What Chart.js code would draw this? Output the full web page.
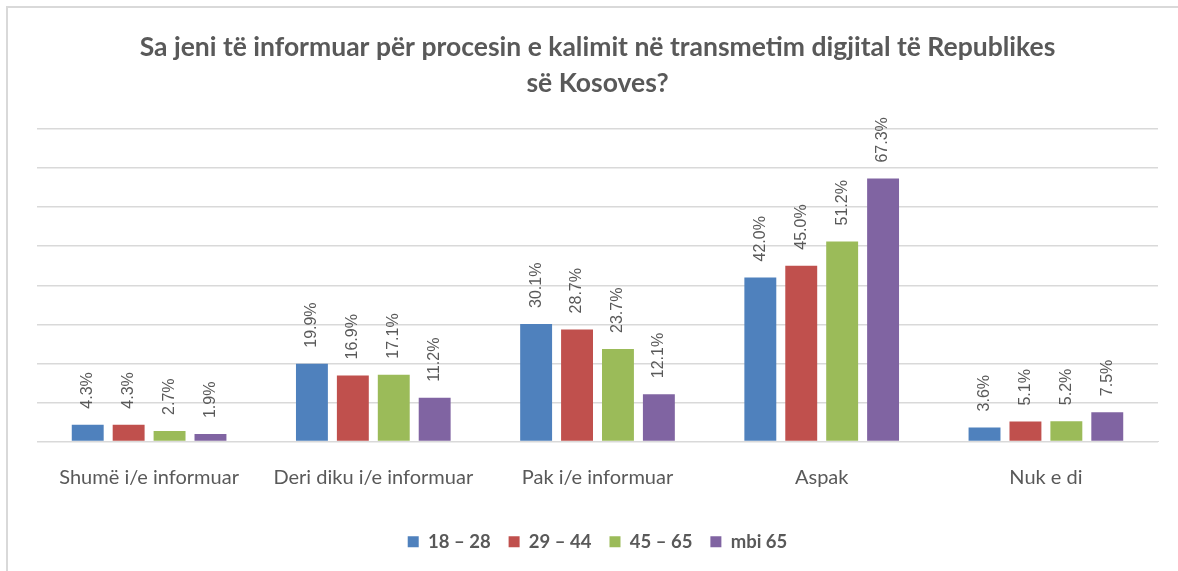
<!DOCTYPE html>
<html>
<head>
<meta charset="utf-8">
<script src="https://cdn.jsdelivr.net/npm/chart.js@4/dist/chart.umd.min.js"></script>
<style>
  html, body { margin: 0; padding: 0; background: #fff; }
  #frame {
    position: absolute;
    left: 6px; top: 6px; right: 0; bottom: 0;
    border-top: 2px solid #d9d9d9;
    border-left: 2px solid #d9d9d9;
  }
  #wrap { position: absolute; left: 0; top: 0; width: 1178px; height: 571px; }
</style>
</head>
<body>
<div id="frame"></div>
<div id="wrap"><canvas id="chart"></canvas></div>
<script>
const categories = [
  "Shumë i/e informuar",
  "Deri diku i/e informuar",
  "Pak i/e informuar",
  "Aspak",
  "Nuk e di"
];
const seriesNames = ["18 – 28", "29 – 44", "45 – 65", "mbi 65"];
const age18to28 = [4.3, 19.9, 30.1, 42.0, 3.6];
const age29to44 = [4.3, 16.9, 28.7, 45.0, 5.1];
const age45to65 = [2.7, 17.1, 23.7, 51.2, 5.2];
const ageOver65 = [1.9, 11.2, 12.1, 67.3, 7.5];
const colors = ["#4F81BD", "#C0504D", "#9BBB59", "#8064A2"];

const textColor = "#595959";

// rotated value labels above each bar
const barLabels = {
  id: "barLabels",
  afterDatasetsDraw(chart) {
    const ctx = chart.ctx;
    ctx.save();
    ctx.font = "16px 'Liberation Sans', sans-serif";
    ctx.fillStyle = textColor;
    ctx.textAlign = "left";
    ctx.textBaseline = "middle";
    chart.data.datasets.forEach((ds, i) => {
      chart.getDatasetMeta(i).data.forEach((bar, j) => {
        ctx.save();
        ctx.translate(bar.x, bar.y - 16);
        ctx.rotate(-Math.PI / 2);
        ctx.fillText(ds.data[j].toFixed(1) + "%", 0, 0);
        ctx.restore();
      });
    });
    ctx.restore();
  }
};

const allSeries = [age18to28, age29to44, age45to65, ageOver65];

new Chart(document.getElementById("chart"), {
  type: "bar",
  data: {
    labels: categories,
    datasets: allSeries.map((data, i) => ({
      label: seriesNames[i],
      data: data,
      backgroundColor: colors[i],
      borderWidth: 0,
      categoryPercentage: 0.73,
      barPercentage: 0.78
    }))
  },
  options: {
    responsive: true,
    maintainAspectRatio: false,
    animation: false,
    layout: {
      padding: { left: 37, right: 20, top: 0, bottom: 10 }
    },
    plugins: {
      title: {
        display: true,
        text: [
          "Sa jeni të informuar për procesin e kalimit në transmetim digjital të Republikes",
          "së Kosoves?"
        ],
        color: textColor,
        font: { family: "Lato, sans-serif", size: 26.5, weight: "bold", lineHeight: 36 / 26.5 },
        padding: { top: 29, bottom: 28 }
      },
      legend: {
        position: "bottom",
        labels: {
          color: textColor,
          boxWidth: 11,
          boxHeight: 11,
          padding: 18,
          font: { family: "Lato, sans-serif", size: 18.5, weight: "bold" }
        }
      },
      tooltip: { enabled: false }
    },
    scales: {
      x: {
        grid: { display: false },
        border: { color: "#d9d9d9", width: 1 },
        ticks: {
          color: textColor,
          padding: 16,
          font: { family: "Lato, sans-serif", size: 20 }
        },
        afterFit(scale) {
          scale.height += 9;
        }
      },
      y: {
        min: 0,
        max: 80,
        ticks: { display: false, stepSize: 10 },
        grid: { color: "#d9d9d9", lineWidth: 1.5, drawTicks: false },
        border: { display: false }
      }
    }
  },
  plugins: [barLabels]
});
</script>
</body>
</html>
